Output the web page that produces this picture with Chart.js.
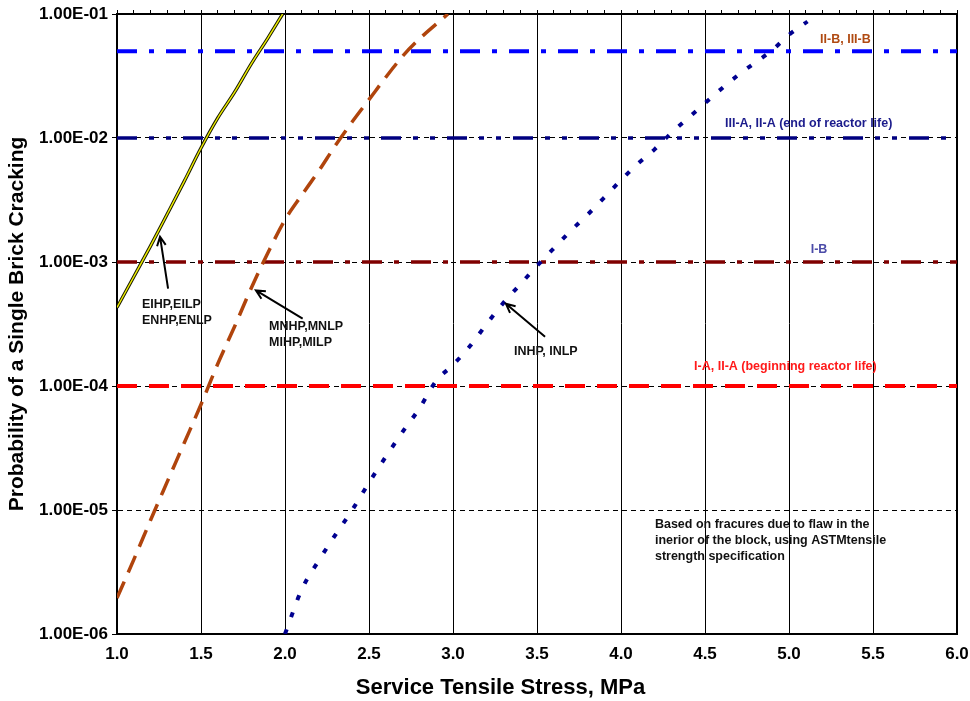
<!DOCTYPE html>
<html>
<head>
<meta charset="utf-8">
<script src="https://cdn.jsdelivr.net/npm/chart.js@4.4.1/dist/chart.umd.min.js"></script>
<style>
  html, body { margin: 0; padding: 0; background: #fff; }
</style>
</head>
<body>
<canvas id="brickChart" width="970" height="701"></canvas>
<script>
/* Probability of single brick cracking vs service tensile stress */

// axis ticks
const stressTicks = [1.0, 1.5, 2.0, 2.5, 3.0, 3.5, 4.0, 4.5, 5.0, 5.5, 6.0];
const probTicks = [1e-6, 1e-5, 1e-4, 1e-3, 1e-2, 1e-1];

// EIHP,EILP / ENHP,ENLP
const eiStress = [1.0, 1.1, 1.2, 1.3, 1.4, 1.5, 1.6, 1.7, 1.8, 1.9, 1.986];
const eiProb = [4.3e-4, 7.6e-4, 1.35e-3, 2.45e-3, 4.47e-3, 8.3e-3, 1.45e-2, 2.34e-2, 3.98e-2, 6.46e-2, 1.0e-1];

// MNHP,MNLP / MIHP,MILP
const mnStress = [1.0, 1.1, 1.2, 1.3, 1.4, 1.5, 1.6, 1.7, 1.8, 1.9, 2.0, 2.1, 2.2, 2.3, 2.4, 2.5, 2.6, 2.7, 2.8, 2.9, 2.97];
const mnProb = [1.95e-6, 3.98e-6, 8.3e-6, 1.70e-5, 3.47e-5, 7.1e-5, 1.51e-4, 3.02e-4, 6.2e-4, 1.20e-3,
                2.19e-3, 3.47e-3, 5.4e-3, 8.7e-3, 1.35e-2, 2.04e-2, 3.09e-2, 4.57e-2, 6.3e-2, 8.3e-2, 1.0e-1];

// INHP, INLP
const inStress = [2.0, 2.1, 2.2, 2.3, 2.4, 2.5, 2.6, 2.7, 2.8, 2.9, 3.0, 3.1, 3.2, 3.3, 3.4, 3.5,
                  3.6, 3.7, 3.8, 3.9, 4.0, 4.1, 4.2, 4.3, 4.4, 4.5, 4.6, 4.7, 4.8, 4.9, 5.0, 5.11];
const inProb = [1.0e-6, 2.29e-6, 3.89e-6, 6.3e-6, 1.0e-5, 1.66e-5, 2.69e-5, 4.27e-5, 6.6e-5, 1.10e-4,
                1.48e-4, 2.09e-4, 3.16e-4, 4.68e-4, 6.6e-4, 9.3e-4, 1.29e-3, 1.78e-3, 2.4e-3, 3.31e-3,
                4.57e-3, 6.2e-3, 8.1e-3, 1.10e-2, 1.45e-2, 1.91e-2, 2.51e-2, 3.24e-2, 4.07e-2, 5.1e-2,
                6.8e-2, 8.7e-2];

// design limits
const limitNames = ['II-B, III-B', 'III-A, II-A (end of reactor life)', 'I-B', 'I-A, II-A (beginning reactor life)'];
const limitProb = [5e-2, 1e-2, 1e-3, 1e-4];

const noteLines = ['Based on fracures due to flaw in the', 'inerior of the block, using ASTMtensile', 'strength specification'];
const xTitle = 'Service Tensile Stress, MPa';

const FONT = "'Liberation Sans', Arial, Helvetica, sans-serif";
Chart.defaults.font.family = FONT;
Chart.defaults.font.weight = 'bold';
Chart.defaults.color = '#000';

function pts(xs, ys) {
    return xs.map((x, i) => ({ x: x, y: ys[i] }));
}

function flat(level) {
    return [{ x: stressTicks[0], y: level }, { x: stressTicks[stressTicks.length - 1], y: level }];
}

function sci(v) {
    const e = Math.round(Math.log10(v));
    const m = v / Math.pow(10, e);
    return m.toFixed(2) + 'E' + (e < 0 ? '-' : '+') + String(Math.abs(e)).padStart(2, '0');
}

const limitStyles = [
    { color: '#0000FF', width: 4, dash: [20, 12, 5, 12] },
    { color: '#000080', width: 3.5, dash: [20, 12, 5, 12, 5, 12] },
    { color: '#800000', width: 3.5, dash: [20, 12, 5, 12] },
    { color: '#FF0000', width: 4, dash: [20, 12] }
];

// text placed in data coordinates
const limitLabels = [
    { x: 5.185, y: 6.2e-2, color: '#B04A12' },
    { x: 4.619, y: 1.3e-2, color: '#1C1C8C' },
    { x: 5.129, y: 1.27e-3, color: '#4B4BA8' },
    { x: 4.435, y: 1.43e-4, color: '#FF1A1A' }
];
const curveLabels = [
    { lines: ['EIHP,EILP', 'ENHP,ENLP'], x: 1.149, y: 4.5e-4 },
    { lines: ['MNHP,MNLP', 'MIHP,MILP'], x: 1.905, y: 3.0e-4 },
    { lines: ['INHP, INLP'], x: 3.363, y: 1.88e-4 },
    { lines: noteLines, x: 4.202, y: 7.7e-6 }
];
const arrows = [
    { from: [1.304, 6.1e-4], to: [1.256, 1.6e-3] },
    { from: [2.105, 3.5e-4], to: [1.827, 5.9e-4] },
    { from: [3.548, 2.5e-4], to: [3.315, 4.6e-4] }
];

const notesPlugin = {
    id: 'notes',
    afterDatasetsDraw(chart) {
        const { ctx } = chart;
        const xs = chart.scales.x;
        const ys = chart.scales.y;
        ctx.save();
        ctx.font = 'bold 12.5px ' + FONT;
        ctx.textAlign = 'left';
        ctx.textBaseline = 'middle';

        limitLabels.forEach((l, i) => {
            ctx.fillStyle = l.color;
            ctx.fillText(limitNames[i], xs.getPixelForValue(l.x), ys.getPixelForValue(l.y));
        });

        ctx.fillStyle = '#111';
        curveLabels.forEach(l => {
            const px = xs.getPixelForValue(l.x);
            const py = ys.getPixelForValue(l.y);
            l.lines.forEach((t, i) => ctx.fillText(t, px, py + i * 16));
        });

        ctx.strokeStyle = '#000';
        ctx.lineWidth = 2;
        arrows.forEach(a => {
            const x1 = xs.getPixelForValue(a.from[0]), y1 = ys.getPixelForValue(a.from[1]);
            const x2 = xs.getPixelForValue(a.to[0]), y2 = ys.getPixelForValue(a.to[1]);
            const ang = Math.atan2(y2 - y1, x2 - x1);
            const head = 10;
            ctx.beginPath();
            ctx.moveTo(x1, y1);
            ctx.lineTo(x2, y2);
            ctx.moveTo(x2 - head * Math.cos(ang - 0.45), y2 - head * Math.sin(ang - 0.45));
            ctx.lineTo(x2, y2);
            ctx.lineTo(x2 - head * Math.cos(ang + 0.45), y2 - head * Math.sin(ang + 0.45));
            ctx.stroke();
        });

        // x axis title sits left of the plot centre in the original
        ctx.font = 'bold 22px ' + FONT;
        ctx.textAlign = 'center';
        ctx.fillStyle = '#000';
        ctx.fillText(xTitle, chart.width * 0.516, chart.height - 13);
        ctx.restore();
    }
};

const limitSets = limitProb.map((p, i) => ({
    label: limitNames[i],
    data: flat(p),
    borderColor: limitStyles[i].color,
    borderWidth: limitStyles[i].width,
    borderDash: limitStyles[i].dash,
    borderCapStyle: 'butt',
    pointRadius: 0,
    order: 10
}));

const curveSets = [
    {
        label: 'MNHP,MNLP,MIHP,MILP',
        data: pts(mnStress, mnProb),
        borderColor: '#B0440C',
        borderWidth: 3.5,
        borderDash: [18, 10],
        cubicInterpolationMode: 'monotone',
        pointRadius: 0,
        order: 3
    },
    {
        label: 'INHP, INLP',
        data: pts(inStress, inProb),
        borderColor: '#000090',
        borderWidth: 4,
        borderDash: [5, 13],
        cubicInterpolationMode: 'monotone',
        pointRadius: 0,
        order: 3
    },
    {
        label: 'EIHP,EILP,ENHP,ENLP outline',
        data: pts(eiStress, eiProb),
        borderColor: '#1a1a00',
        borderWidth: 3.4,
        cubicInterpolationMode: 'monotone',
        pointRadius: 0,
        order: 2
    },
    {
        label: 'EIHP,EILP,ENHP,ENLP',
        data: pts(eiStress, eiProb),
        borderColor: '#F0F000',
        borderWidth: 1.4,
        cubicInterpolationMode: 'monotone',
        pointRadius: 0,
        order: 1
    }
];

new Chart(document.getElementById('brickChart'), {
    type: 'line',
    data: { datasets: limitSets.concat(curveSets) },
    plugins: [notesPlugin],
    options: {
        responsive: false,
        devicePixelRatio: 1,
        animation: false,
        layout: { padding: 0 },
        plugins: { legend: { display: false }, tooltip: { enabled: false } },
        scales: {
            x: {
                type: 'linear',
                position: 'bottom',
                min: 1,
                max: 6,
                afterBuildTicks: s => { s.ticks = stressTicks.map(v => ({ value: v })); },
                afterFit: s => { s.height = 67; s.paddingLeft = 0; s.paddingRight = 0; },
                ticks: {
                    callback: v => Number(v).toFixed(1),
                    font: { size: 17, weight: 'bold' },
                    padding: 10,
                    maxRotation: 0,
                    autoSkip: false
                },
                grid: { color: '#000', lineWidth: 1, drawTicks: false },
                border: { color: '#000', width: 2 },
                title: { display: false }
            },
            xTop: {
                type: 'linear',
                position: 'top',
                min: 1,
                max: 6,
                afterFit: s => { s.height = 14; s.paddingLeft = 0; s.paddingRight = 0; },
                ticks: { display: false, stepSize: 0.1, autoSkip: false },
                grid: { drawOnChartArea: false, drawTicks: true, tickLength: 4, tickColor: '#000', tickWidth: 1 },
                border: { color: '#000', width: 2 }
            },
            y: {
                type: 'logarithmic',
                position: 'left',
                min: 1e-6,
                max: 1e-1,
                afterBuildTicks: s => { s.ticks = probTicks.map(v => ({ value: v })); },
                afterFit: s => { s.width = 117; s.paddingTop = 0; s.paddingBottom = 0; },
                ticks: {
                    callback: v => sci(v),
                    font: { size: 17, weight: 'bold' },
                    padding: 4,
                    autoSkip: false
                },
                grid: { color: '#000', lineWidth: 1, tickLength: 5, tickColor: '#000', tickBorderDash: [] },
                border: { color: '#000', width: 2, dash: [5, 4] },
                title: {
                    display: true,
                    text: 'Probability of a Single Brick Cracking',
                    font: { size: 21, weight: 'bold' },
                    padding: { top: 5, bottom: 0 }
                }
            },
            yRight: {
                type: 'linear',
                position: 'right',
                min: 0,
                max: 1,
                afterFit: s => { s.width = 13; s.paddingTop = 0; s.paddingBottom = 0; },
                ticks: { display: false },
                grid: { drawOnChartArea: false, drawTicks: false },
                border: { color: '#000', width: 2 }
            }
        }
    }
});
</script>
</body>
</html>
